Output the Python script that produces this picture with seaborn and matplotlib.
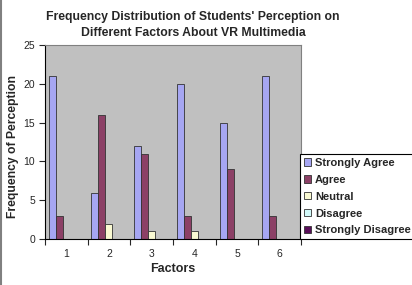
import matplotlib
matplotlib.use("Agg")
import matplotlib.pyplot as plt
from matplotlib.lines import Line2D
import seaborn as sns
import pandas as pd

# data
factors = ["1", "2", "3", "4", "5", "6"]
strongly_agree = [21, 6, 12, 20, 15, 21]
agree = [3, 16, 11, 3, 9, 3]
neutral = [0, 2, 1, 1, 0, 0]
disagree = [0, 0, 0, 0, 0, 0]
strongly_disagree = [0, 0, 0, 0, 0, 0]

levels = ["Strongly Agree", "Agree", "Neutral", "Disagree", "Strongly Disagree"]
colors = ["#9999FF", "#993366", "#FFFFCC", "#CCFFFF", "#660066"]

rows = []
for name, vals in zip(levels, [strongly_agree, agree, neutral, disagree, strongly_disagree]):
    for f, v in zip(factors, vals):
        rows.append({"Factors": f, "Level": name, "Count": v})
df = pd.DataFrame(rows)

sns.set_style("white")
plt.rcParams["font.family"] = ["Liberation Sans", "DejaVu Sans"]

fig = plt.figure(figsize=(4.12, 2.85), dpi=100)
ax = fig.add_axes([0.109, 0.161, 0.622, 0.681])
ax.set_facecolor("#C0C0C0")

sns.barplot(data=df, x="Factors", y="Count", hue="Level", hue_order=levels,
            palette=colors, width=0.82, edgecolor="#333333", linewidth=0.6,
            errorbar=None, ax=ax, zorder=2)

ax.set_ylim(0, 25)
ax.set_xlim(-0.5, 5.5)
ax.set_yticks([0, 5, 10, 15, 20, 25])
ax.tick_params(axis="y", labelsize=7.5, length=4, width=0.8, direction="out", left=True, pad=3)
ax.tick_params(axis="x", which="major", labelsize=7.5, length=0, pad=7)
ax.set_xticks([i - 0.5 for i in range(7)], minor=True)
ax.tick_params(axis="x", which="minor", length=4, width=0.8, direction="out", bottom=True)

for s in ["left", "bottom"]:
    ax.spines[s].set_color("black")
    ax.spines[s].set_linewidth(0.8)
for s in ["top", "right"]:
    ax.spines[s].set_color("#808080")
    ax.spines[s].set_linewidth(0.8)

ax.set_xlabel("Factors", fontsize=9, fontweight="bold", labelpad=3)
ax.set_ylabel("Frequency of Perception", fontsize=8.7, fontweight="bold")
ax.yaxis.set_label_coords(-0.10, 0.475)

fig.text(193 / 412, 1 - 25 / 285,
         "Frequency Distribution of Students' Perception on\nDifferent Factors About VR Multimedia",
         ha="center", va="center", fontsize=8.8, fontweight="bold", linespacing=1.45)

leg = ax.legend(loc="upper left", bbox_to_anchor=(300 / 412, 1 - 154 / 285),
                bbox_transform=fig.transFigure, frameon=True, fancybox=False,
                edgecolor="black", framealpha=1, borderpad=0.35, labelspacing=0.62,
                handlelength=0.65, handleheight=0.65, handletextpad=0.35,
                prop={"size": 8, "weight": "bold"}, borderaxespad=0)
leg.get_frame().set_linewidth(0.8)

fig.add_artist(Line2D([0.003, 0.003], [0, 1], transform=fig.transFigure,
                      color="#808080", linewidth=1.5))

fig.savefig("out.png", dpi=100)
